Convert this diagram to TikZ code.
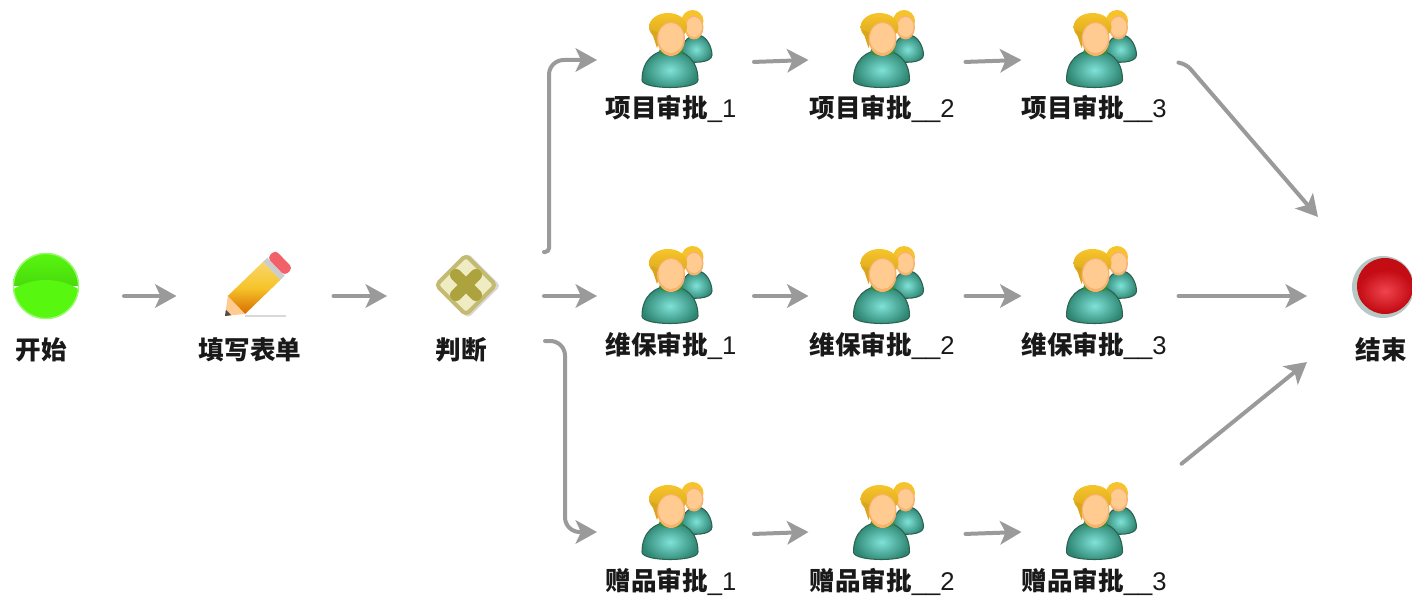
\documentclass[tikz,border=0pt]{standalone}
\usepackage{fontspec}
\usepackage{tikz}
\usetikzlibrary{arrows.meta}
\newfontfamily\cjkfont{Noto Sans CJK SC}
\newfontfamily\latinfont{Liberation Sans}
\definecolor{flowgray}{HTML}{9A9A9A}
\definecolor{hairyellow}{HTML}{F6C42A}
\definecolor{hairdark}{HTML}{D9A51C}
\definecolor{skinlight}{HTML}{FFCB90}
\definecolor{skindark}{HTML}{F8B26C}
\definecolor{teallight}{HTML}{7FE2D8}
\definecolor{tealdark}{HTML}{2E8672}
\definecolor{tealedge}{HTML}{2B6350}
\definecolor{gateolive}{HTML}{ADA33E}
\definecolor{gatepale}{HTML}{EFECC4}
\definecolor{gateedge}{HTML}{C4BB72}
\definecolor{startbright}{HTML}{57F70F}
\definecolor{startdark}{HTML}{4ADB0C}
\definecolor{endring}{HTML}{B5C8C4}
\definecolor{enddark}{HTML}{C40C14}
\definecolor{endlight}{HTML}{F0444F}

\begin{document}
\begin{tikzpicture}[
    x=0.75pt, y=-0.75pt, % one unit is one pixel of the reference
    taskbox/.style={minimum width=116.25pt, minimum height=30pt, inner sep=0pt, outer sep=0pt}, % Empty box, arrows stop at its sides
    tasktext/.style={inner sep=0pt, text=black!90, font=\fontsize{19.2}{20}\selectfont, text height=15pt, text depth=3pt}, % Caption under an icon
    flowline/.style={draw=flowgray, line width=3pt, line cap=round, shorten <=1.5pt, -{Stealth[length=16pt, width=17.5pt, inset=4pt]}}, % Gray arrow
    pics/persons/.style={code={ % Two people, drawn back to front
        \shade[draw=tealedge, line width=0.8pt, inner color=teallight, outer color=tealdark]
            (3,0) .. controls (3,-15) and (10,-25) .. (20,-25) .. controls (30,-25) and (35,-12) .. (35,-5)
            .. controls (35,3) and (15,4) .. (3,0) -- cycle;
        \fill[hairyellow] (15.5,-39) ellipse [x radius=11, y radius=11];
        \fill[skindark] (17,-32.5) ellipse [x radius=9.5, y radius=12];
        \fill[skinlight] (17,-33) ellipse [x radius=8, y radius=10];
        \shade[draw=tealedge, line width=0.8pt, inner color=teallight, outer color=tealdark]
            (-35,20) .. controls (-35,0) and (-22,-10) .. (-7,-10) .. controls (8,-10) and (21,0) .. (21,20)
            .. controls (21,30) and (-35,30) .. (-35,20) -- cycle;
        \fill[green!45!black!80] (-6,-9) ellipse [x radius=12, y radius=5];
        \shade[top color=hairyellow, bottom color=hairdark] (-9,-33) ellipse [x radius=19, y radius=14];
        \fill[hairdark] (-26,-30) -- (-20,-12) -- (-15,-26) -- cycle;
        \fill[skindark] (-6,-21) ellipse [x radius=14, y radius=17];
        \fill[skinlight] (-6,-22) ellipse [x radius=12.5, y radius=15];
    }},
    pics/pencil/.style={code={ % Tip at the origin, along the x axis
        \fill[skinlight] (0,0) -- (16,-12.5) -- (16,12.5) -- cycle;
        \fill[black!70] (0,0) -- (5,-3.8) -- (5,3.8) -- cycle;
        \shade[top color=hairyellow!70!white, bottom color=orange!85!black, middle color=hairyellow]
            (16,-12.5) rectangle (65,12.5);
        \fill[black!20] (65,-12.5) rectangle (71,12.5);
        \fill[rounded corners=3pt, endlight!85!white] (71,-12.5) -- (82,-12.5) -- (82,12.5) -- (71,12.5) -- cycle;
    }},
    pics/gateway/.style={code={ % Pale diamond with a cross
        \fill[rotate=45, rounded corners=3pt, black!15] (-22,-21) rectangle (24,25);
        \draw[rotate=45, rounded corners=3pt, fill=gatepale, draw=gateedge, line width=3pt] (-21,-21) rectangle (21,21);
        \draw[gateolive, line width=9pt, line cap=round] (-10,-10) -- (10,10);
        \draw[gateolive, line width=9pt, line cap=round] (-10,10) -- (10,-10);
    }},
    ]
    \useasboundingbox (0,0) rectangle (1412,599);

    % start, form and gateway
    \node[taskbox] (startnode) at (44.5,296) {};
    \node[taskbox] (formnode) at (254,296) {};
    \node[taskbox] (judgenode) at (464.5,296) {};
    \node[taskbox] (endnode) at (1384.5,296) {};

    \begin{scope}
        \clip (46,286) circle (33);
        \shade[top color=startbright, bottom color=startdark] (13,253) rectangle (79,285);
        \fill[startbright] (46,322) ellipse [x radius=52, y radius=42];
    \end{scope}
    \draw[startbright!60!white, line width=1pt] (46,286) circle (32.5);
    \fill[black!15] (245,315) rectangle (286,317);
    \pic[rotate=44] at (225,316) {pencil};
    \pic at (466,285) {gateway};

    % red end ball
    \fill[endring] (1383,287) circle (31);
    \fill[enddark] (1385,286) circle (28);
    \shade[inner color=endlight, outer color=enddark] (1385,291) ellipse [x radius=27, y radius=21];

    \node[tasktext] (startlabel) at (41,351) {\cjkfont\bfseries 开始};
    \node[tasktext] (formlabel) at (250,351) {\cjkfont\bfseries 填写表单};
    \node[tasktext] (judgelabel) at (461,351) {\cjkfont\bfseries 判断};
    \node[tasktext] (endlabel) at (1381,351) {\cjkfont\bfseries 结束};

    % three rows of reviews
    \foreach \row/\y/\name in {1/60/项目审批, 2/296/维保审批, 3/532/赠品审批}
        \foreach \col/\x/\sep/\off in {1/674.5/\_/-3.5, 2/886/\_\_/-4, 3/1099/\_\_/-5} {
            \node[taskbox] (r\row\col) at (\x,\y) {};
            \pic at (\x+2.5,\y) {persons};
            \node[tasktext] (l\row\col) at (\x+\off,\y+50) {{\cjkfont\bfseries \name}{\latinfont \sep\col}};
        }

    \coordinate (gateup) at (542,252);
    \coordinate (gateuptail) at (549,252);
    \coordinate (gateupbend) at (549,60);
    \coordinate (gatelow) at (543,341);
    \coordinate (gatelowtail) at (565,341);
    \coordinate (gatelowbend) at (565,532);
    \coordinate (topbend) at (1187,65);
    \coordinate (endtop) at (1318,217);
    \coordinate (lowstart) at (1180,465);
    \coordinate (endlow) at (1307,362);

    \draw[flowline] (startnode.east) -- (formnode.west);
    \draw[flowline] (formnode.east) -- (judgenode.west);
    \draw[flowline] (judgenode.east) -- (r21.west);
    \draw[flowline, rounded corners=3pt] (gateup) -- (gateuptail) [rounded corners=11pt] -- (gateupbend) -- (r11.west);
    \draw[flowline, rounded corners=11pt] (gatelow) -- (gatelowtail) -- (gatelowbend) -- (r31.west);

    \foreach \row/\dy in {1/-1.5pt, 2/0pt, 3/-1.5pt} {
        \draw[flowline] ([yshift=\dy]r\row1.east) -- (r\row2.west);
        \draw[flowline] ([yshift=\dy]r\row2.east) -- (r\row3.west);
    }

    \draw[flowline, rounded corners=4pt] ([yshift=-1.5pt]r13.east) -- (topbend) -- (endtop);
    \draw[flowline] (r23.east) -- (endnode.west);
    \draw[flowline] (lowstart) -- (endlow);
\end{tikzpicture}
\end{document}
